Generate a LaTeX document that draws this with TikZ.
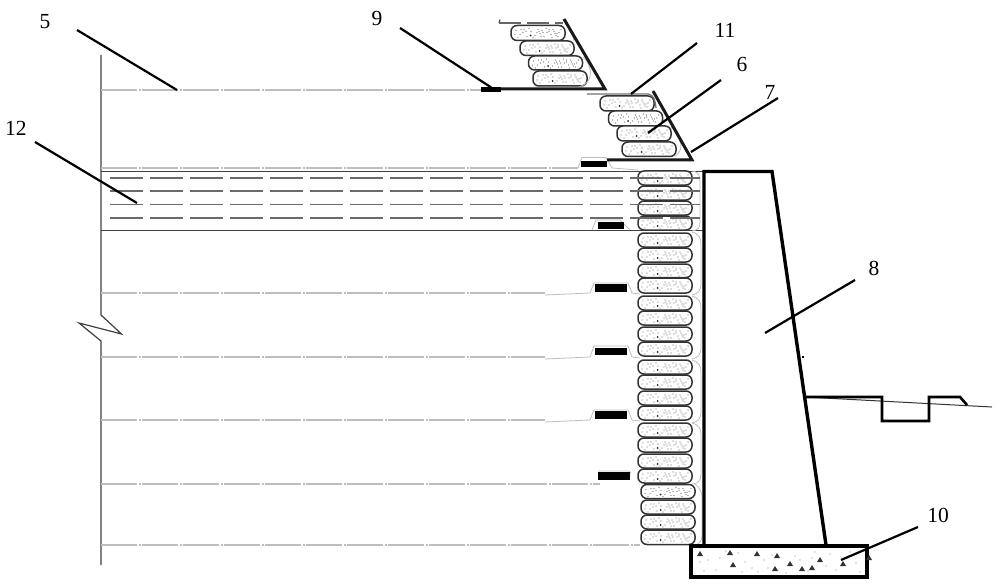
\documentclass[tikz,border=0pt]{standalone}
\usepackage{fontspec}
\setmainfont{Liberation Serif}
\definecolor{lineg}{gray}{0.74}
\definecolor{dashg}{gray}{0.42}
\definecolor{bagedge}{gray}{0.2}
\tikzset{
  thickline/.style={line width=3pt,black!90,line join=miter},
  leader/.style={line width=2.2pt,black},
  lab/.style={font=\fontsize{21.5}{21.5}\selectfont,inner sep=0pt},
  centerl/.style={line width=1.1pt,lineg,dash pattern=on 36pt off 2pt on 1.5pt off 1.5pt},
  softl/.style={line width=0.8pt,lineg},
  solidl/.style={line width=1.2pt,black!75},
  dashl/.style={line width=1.5pt,dashg,dash pattern=on 33pt off 7pt},
  block/.style={fill=black,draw=none},
  bagshape/.style={draw=bagedge,line width=1.5pt,rounded corners=6pt,fill=white}
}
% bag: left x, top y (bag is 54 wide, h tall)
\newcommand{\sandbag}[3]{%
  \draw[bagshape] (#1,#2) rectangle ++(54,#3);
  \begin{scope}[shift={(#1,#2)}]
    \foreach \px/\py in {5/5,9/9,13/4,16/11,20/6,24/10,27/4,29/8,31/5,33/11,36/7,38/4,40/9,43/6,45/10,48/7,50/4,7/12,22/12,41/12,12/7,35/3,26/7,47/11,4/9,18/3,30/11,38/6,42/4,44/8,46/8,28/6,32/7,10/4,15/6}
      \fill[black!55] (\px,\py) circle (0.55);
    \fill[black!85] (19.5,10) circle (1);
  \end{scope}}
\begin{document}
\begin{tikzpicture}[x=1pt,y=-1pt]
\useasboundingbox (0,0) rectangle (1000,588);
\fill[white] (0,0) rectangle (1000,588);

% layer lines
\draw[solidl] (101,55) -- (101,315) -- (121.5,334) -- (79,323) -- (101,341) -- (101,565);
\foreach \yy/\xe in {90/481,168/578,293/545,357/545,420/545,484/600,545/640}
  \draw[centerl] (101,\yy) -- (\xe,\yy);
\draw[solidl] (101,171.5) -- (703,171.5);
\draw[solidl] (101,230.5) -- (703,230.5);

% thin wrapping around geogrid humps
\draw[softl] (578,168) -- (582,157.5) -- (606,157.5) -- (612,168) -- (638,170);
\draw[softl] (592,230) -- (596,220) -- (620,220) -- (630,230);
\draw[softl] (545,295) -- (590,293) -- (594,283) -- (628,283) -- (632,293) -- (640,294);
\draw[softl] (545,359) -- (590,357) -- (594,346) -- (628,346) -- (632,357) -- (640,358);
\draw[softl] (545,422) -- (590,420) -- (594,410) -- (628,410) -- (632,420) -- (640,421);
\draw[softl] (598,471) -- (629,471) -- (631,473);
% wrap on the right of the wall bags
\draw[softl] (692,171) .. controls (699,172) and (700,176) .. (700,182) -- (700,222) .. controls (700,228) and (698,230) .. (692,231);
\draw[softl] (692,232) .. controls (699,234) and (701,238) .. (701,244) -- (701,284) .. controls (701,290) and (698,294) .. (692,295);
\draw[softl] (692,296) .. controls (699,298) and (701,302) .. (701,308) -- (701,348) .. controls (701,354) and (698,358) .. (692,359);
\draw[softl] (692,360) .. controls (699,362) and (701,366) .. (701,372) -- (701,412) .. controls (701,418) and (698,422) .. (692,423);
\draw[softl] (692,423) .. controls (699,425) and (701,429) .. (701,435) -- (701,475) .. controls (701,480) and (698,484) .. (692,484);
\draw[softl] (695,484) .. controls (700,488) and (702,492) .. (702,498) -- (702,536) .. controls (702,541) and (699,544) .. (695,545);

% lower bags
\foreach \yy/\hh in {171/14,186/14,201/14,216/14,233/14,248/14,264/13.5,278/15,296/14,311/14,327/14,342/14,360/14,375/14,391/14,406/14,423/14,438/14,454/14,469/14}
  {\sandbag{638}{\yy}{\hh}}
\foreach \yy/\hh in {484.5/14,500/14,515/14,530/14.5}
  {\sandbag{641}{\yy}{\hh}}
% clay layer dashes pass over the bags
\foreach \yy in {178,191,204.5,218}
  \draw[dashl] (110,\yy) -- (700,\yy);

% upper tier 1
\sandbag{511}{25.5}{15}
\sandbag{520}{41}{14.5}
\sandbag{528.5}{56}{14}
\sandbag{533}{71}{15}
\draw[softl] (566,25) .. controls (571,27) and (572,33) .. (574,41);
\draw[softl] (583,57) .. controls (592,65) and (595,82) .. (580,86.5);
\draw[line width=1.2pt,black!70] (499,23) -- (500,19.5);
\draw[line width=1.2pt,black!60,dash pattern=on 22pt off 6pt] (499,23) -- (563,23);
\draw[thickline] (564,19) -- (605,89) -- (481,89);
\fill[block] (481,87.5) rectangle (501,92);

% upper tier 2
\sandbag{600}{96}{15}
\sandbag{608.5}{111}{15}
\sandbag{617}{126}{15}
\sandbag{622}{142}{14.5}
\draw[line width=1.3pt,black!55] (587,94) -- (648,94) .. controls (654,95) and (655,100) .. (656,108);
\draw[softl] (671,127) .. controls (684,140) and (683,152) .. (675,156);
\draw[thickline] (653,91) -- (692,160) -- (607,160);
\fill[block] (581,161) rectangle (607,167);

% blocks
\fill[block] (598,221.5) rectangle (624,228.5);
\fill[block] (595,284) rectangle (627,291.5);
\fill[block] (595,347.5) rectangle (627,355);
\fill[block] (595,411) rectangle (627,418.5);
\fill[block] (598,472) rectangle (630,480);

% retaining wall
\draw[line width=3.4pt,black,line join=miter] (704,545) -- (704,171.5) -- (772,171.5) -- (826,545);
\fill[black] (802,356) rectangle (804,357.5);

% foundation
\draw[line width=4pt,black,fill=white] (691,545.5) rectangle (866.5,576.5);
\foreach \px/\py in {700/551,730/550,757/551,733/562,790/561,820/557,843/561,775/566,812/565,802/566,777/553}
  \fill[black!80] (\px,\py) -- ++(3,5) -- ++(-6,0) -- cycle;
\fill[black!80] (869,555) -- ++(3,5) -- ++(-6,0) -- cycle;
\foreach \px/\py in {708/560,716/570,745/562,752/568,764/560,772/555,778/570,795/556,808/571,815/552,830/554,836/570,850/552,856/563,726/551,704/571,742/572,786/573,860/572,848/558,720/558,738/553,768/568,800/560,826/566,812/558,700/562,758/572}
  \fill[black!50] (\px,\py) circle (0.7);

% ground
\draw[line width=1pt,black!80] (805,397) -- (992,407);
\draw[line width=2.6pt,black,line join=miter] (805,397) -- (882,397) -- (882,421) -- (929,421) -- (929,397) -- (960,397) -- (967,405);

% labels
\node[lab] (n5) at (45,22) {5};
\node[lab] (n9) at (377,18) {9};
\node[lab] (n11) at (725,30) {11};
\node[lab] (n6) at (742,64) {6};
\node[lab] (n7) at (770,92) {7};
\node[lab] (n12) at (16,128) {12};
\node[lab] (n8) at (874,268) {8};
\node[lab] (n10) at (938,515) {10};

% leaders
\coordinate (a5) at (77,30);    \coordinate (b5) at (177,90);
\coordinate (a9) at (400,28);   \coordinate (b9) at (492,88);
\coordinate (a11) at (697,43);  \coordinate (b11) at (631,94);
\coordinate (a6) at (721,80);   \coordinate (b6) at (648,133);
\coordinate (a7) at (778,98);   \coordinate (b7) at (691,152);
\coordinate (a12) at (35,142);  \coordinate (b12) at (137,203);
\coordinate (a8) at (855,280);  \coordinate (b8) at (765,333);
\coordinate (a10) at (918,527); \coordinate (b10) at (841,560);
\foreach \k in {5,9,11,6,7,12,8,10}
  \draw[leader] (a\k) -- (b\k);
\end{tikzpicture}
\end{document}
